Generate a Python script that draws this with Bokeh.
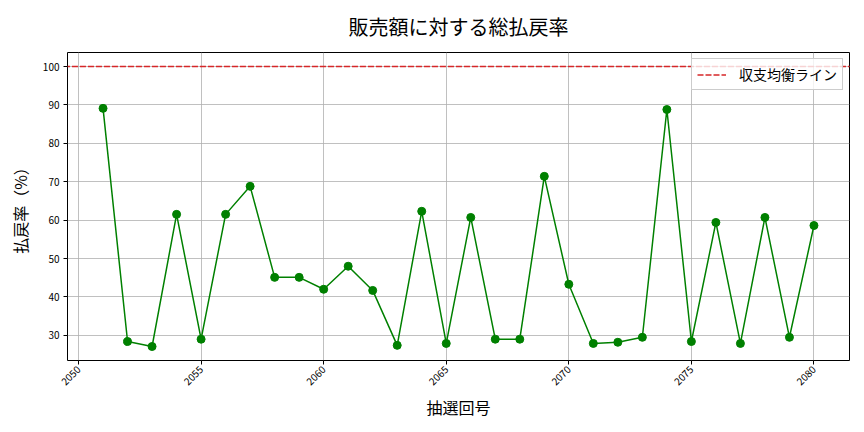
import math
from bokeh.plotting import figure
from bokeh.models import Legend, LegendItem, FixedTicker, Range1d
from bokeh.embed import file_html
from bokeh.resources import INLINE

draws = list(range(2051, 2081))
rates = [89.1, 28.4, 27.1, 61.5, 29.0, 61.5, 68.8, 45.1, 45.1, 42.0,
         48.0, 41.7, 27.4, 62.3, 27.9, 60.7, 29.0, 29.0, 71.4, 43.3,
         27.9, 28.2, 29.5, 88.8, 28.4, 59.4, 27.9, 60.7, 29.5, 58.6]
breakeven = 100
x_ticks = [2050, 2055, 2060, 2065, 2070, 2075, 2080]
y_ticks = [30, 40, 50, 60, 70, 80, 90, 100]
title_text = "販売額に対する総払戻率"
x_label = "抽選回号"
y_label = "払戻率（%）"
legend_label = "収支均衡ライン"

FONT = "Noto Sans CJK JP"

xmin, xmax = min(draws), max(draws)
ymin, ymax = min(min(rates), breakeven), max(max(rates), breakeven)
xpad = (xmax - xmin) * 0.05
ypad = (ymax - ymin) * 0.05

p = figure(width=864, height=432, output_backend="svg", toolbar_location=None,
           x_range=Range1d(xmin - xpad, xmax + xpad),
           y_range=Range1d(ymin - ypad, ymax + ypad),
           min_border_left=67, min_border_right=15, min_border_top=52, min_border_bottom=72)

p.title.text = title_text
p.title.text_font = FONT
p.title.text_font_size = "20px"
p.title.text_font_style = "normal"
p.title.text_color = "black"
p.title.align = "center"
p.title.vertical_align = "top"
p.title.offset = 0
p.title.standoff = 20

p.line(draws, rates, line_color="#008000", line_width=1.5)
p.scatter(draws, rates, size=8, fill_color="#008000", line_color="#008000")

ref = p.line([xmin - xpad * 2, xmax + xpad * 2], [breakeven, breakeven],
             line_color="#d62728", line_width=1.5, line_dash="6 2")

legend = Legend(items=[LegendItem(label=legend_label, renderers=[ref])],
                location="top_right", label_text_font=FONT, label_text_font_size="14px",
                label_text_color="black",
                border_line_color="#cccccc", border_line_alpha=1.0,
                background_fill_alpha=0.8, glyph_width=29, glyph_height=15,
                label_standoff=13, padding=5, margin=6, spacing=0)
p.add_layout(legend)

p.xaxis.ticker = FixedTicker(ticks=x_ticks)
p.yaxis.ticker = FixedTicker(ticks=y_ticks)
p.xaxis.major_label_orientation = math.pi / 4
for ax in (p.xaxis, p.yaxis):
    ax.major_label_text_font = FONT
    ax.major_label_text_font_size = "10px"
    ax.major_label_text_color = "black"
    ax.axis_line_color = None
    ax.major_tick_out = 4
    ax.major_tick_in = 0
    ax.major_tick_line_color = "black"
    ax.minor_tick_line_color = None
    ax.axis_label_text_font = FONT
    ax.axis_label_text_font_size = "16px"
    ax.axis_label_text_font_style = "normal"
    ax.axis_label_text_color = "black"
p.xaxis.axis_label = x_label
p.yaxis.axis_label = y_label
p.xaxis.major_label_standoff = 3
p.yaxis.major_label_standoff = 4
p.xaxis.axis_label_standoff = 3
p.yaxis.axis_label_standoff = 8

p.xgrid.grid_line_color = "#b0b0b0"
p.ygrid.grid_line_color = "#b0b0b0"
p.xgrid.grid_line_width = 0.8
p.ygrid.grid_line_width = 0.8
p.outline_line_color = "black"
p.outline_line_alpha = 1.0
p.outline_line_width = 1

open("out.html", "w").write(file_html(p, INLINE))
